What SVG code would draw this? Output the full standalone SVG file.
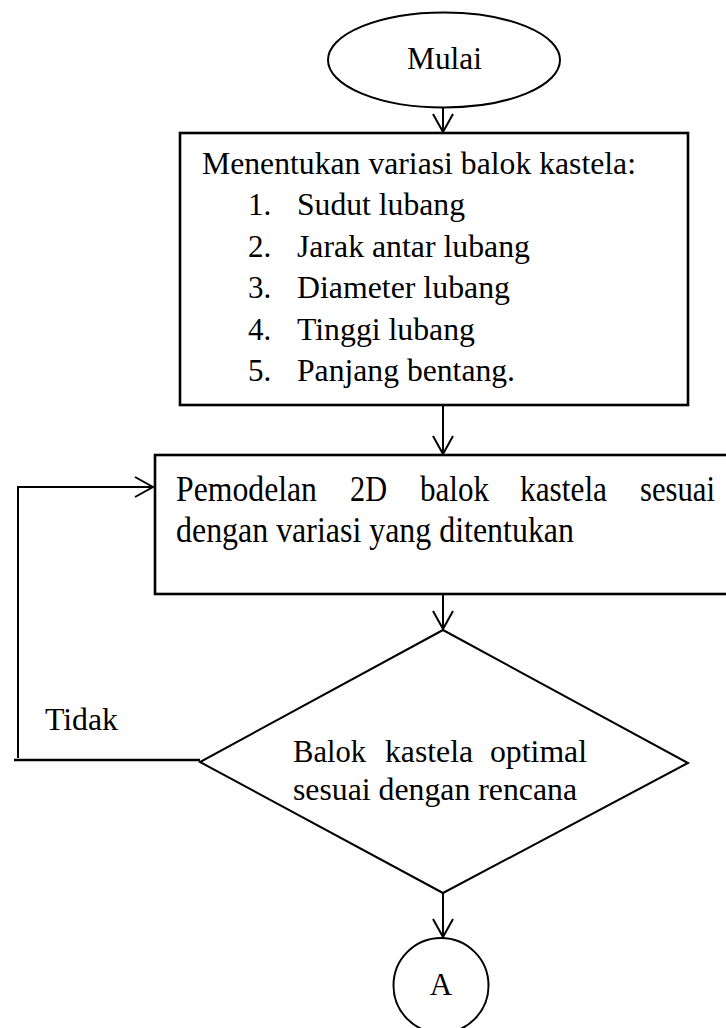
<svg xmlns="http://www.w3.org/2000/svg" width="726" height="1028" viewBox="0 0 726 1028">
  <style>
    .shape { fill: #ffffff; stroke: #000000; stroke-width: 2; }
    .box { fill: #ffffff; stroke: #000000; stroke-width: 2.6; }
    .line { fill: none; stroke: #000000; stroke-width: 2; }
    .thick { fill: none; stroke: #000000; stroke-width: 2.6; }
    text { font-family: "Liberation Serif", "Times New Roman", serif; fill: #000000; }
    .t31 { font-size: 31px; }
    .t32 { font-size: 32px; }
    .t35 { font-size: 35px; }
  </style>
  <defs>
    <marker id="arrow" viewBox="0 0 22 24" refX="20" refY="12" markerWidth="22" markerHeight="24" markerUnits="userSpaceOnUse" orient="auto">
      <path d="M2,2 L20,12 L2,22" fill="none" stroke="#000000" stroke-width="2"/>
    </marker>
  </defs>

  <!-- connectors -->
  <g id="connectors">
    <line class="line" x1="443" y1="107" x2="443" y2="132" marker-end="url(#arrow)"/>
    <line class="line" x1="443" y1="405" x2="443" y2="454" marker-end="url(#arrow)"/>
    <line class="line" x1="443" y1="594" x2="443" y2="629" marker-end="url(#arrow)"/>
    <line class="line" x1="443" y1="893" x2="443" y2="937" marker-end="url(#arrow)"/>
    <!-- "Tidak" loop back to the modelling step -->
    <line class="line" x1="18" y1="758" x2="18" y2="487"/>
    <line class="line" x1="17" y1="487" x2="153" y2="487" marker-end="url(#arrow)"/>
    <line class="thick" x1="14" y1="760" x2="200" y2="760"/>
    <text class="t32" x="45" y="730" textLength="73" lengthAdjust="spacingAndGlyphs">Tidak</text>
  </g>

  <!-- start -->
  <g id="start">
    <ellipse class="shape" cx="444" cy="60" rx="116" ry="47.5"/>
    <text class="t31" x="407" y="69" textLength="75" lengthAdjust="spacingAndGlyphs">Mulai</text>
  </g>

  <!-- variations -->
  <g id="variations">
    <rect class="box" x="180" y="133" width="508" height="272"/>
    <text class="t31" x="202" y="174" textLength="434" lengthAdjust="spacingAndGlyphs">Menentukan variasi balok kastela:</text>
    <text class="t31" x="248" y="215">1.</text>
    <text class="t31" x="297" y="215" textLength="168" lengthAdjust="spacingAndGlyphs">Sudut lubang</text>
    <text class="t31" x="248" y="256.5">2.</text>
    <text class="t31" x="297" y="256.5" textLength="233" lengthAdjust="spacingAndGlyphs">Jarak antar lubang</text>
    <text class="t31" x="248" y="298">3.</text>
    <text class="t31" x="297" y="298" textLength="213" lengthAdjust="spacingAndGlyphs">Diameter lubang</text>
    <text class="t31" x="248" y="339.5">4.</text>
    <text class="t31" x="297" y="339.5" textLength="178" lengthAdjust="spacingAndGlyphs">Tinggi lubang</text>
    <text class="t31" x="248" y="381">5.</text>
    <text class="t31" x="297" y="381" textLength="218" lengthAdjust="spacingAndGlyphs">Panjang bentang.</text>
  </g>

  <!-- modelling -->
  <g id="modelling">
    <rect class="box" x="155" y="455" width="590" height="139"/>
    <text class="t35" x="176" y="501" textLength="141" lengthAdjust="spacingAndGlyphs">Pemodelan</text>
    <text class="t35" x="350" y="501" textLength="37" lengthAdjust="spacingAndGlyphs">2D</text>
    <text class="t35" x="420" y="501" textLength="69" lengthAdjust="spacingAndGlyphs">balok</text>
    <text class="t35" x="520" y="501" textLength="87" lengthAdjust="spacingAndGlyphs">kastela</text>
    <text class="t35" x="640" y="501" textLength="75" lengthAdjust="spacingAndGlyphs">sesuai</text>
    <text class="t35" x="176" y="542" textLength="398" lengthAdjust="spacingAndGlyphs">dengan variasi yang ditentukan</text>
  </g>

  <!-- decision -->
  <g id="decision">
    <polygon class="shape" points="443,630 688,763 443,893 200,762"/>
    <text class="t32" x="293" y="762" textLength="73" lengthAdjust="spacingAndGlyphs">Balok</text>
    <text class="t32" x="385" y="762" textLength="88" lengthAdjust="spacingAndGlyphs">kastela</text>
    <text class="t32" x="490" y="762" textLength="97" lengthAdjust="spacingAndGlyphs">optimal</text>
    <text class="t32" x="293" y="800" textLength="284" lengthAdjust="spacingAndGlyphs">sesuai dengan rencana</text>
  </g>

  <!-- off-page connector -->
  <g id="connector-a">
    <circle class="shape" cx="441" cy="985.5" r="47.5"/>
    <text class="t31" x="441" y="995" text-anchor="middle">A</text>
  </g>
</svg>
